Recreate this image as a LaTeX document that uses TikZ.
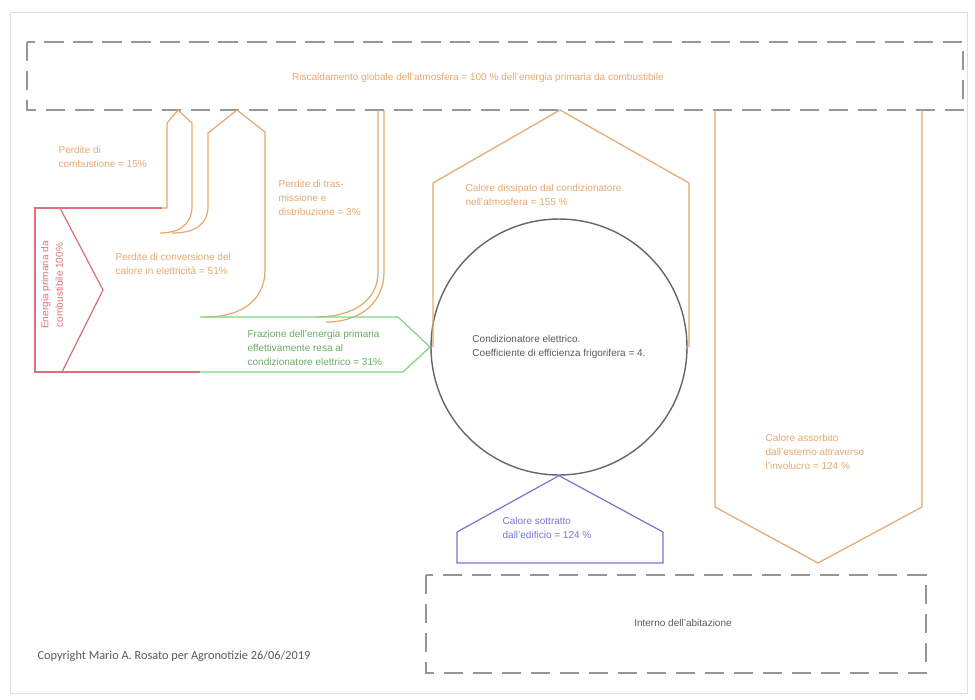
\documentclass[tikz,border=0pt]{standalone}
\usepackage{fontspec}
\setmainfont{Liberation Sans}
\newfontfamily\copyfont{Carlito}
\usetikzlibrary{
  calc, % For coordinate calculations
  positioning % For relative placement
}

\definecolor{arancio}{RGB}{228,168,112}
\definecolor{rosso}{RGB}{222,112,124}
\definecolor{verde}{RGB}{128,214,128}
\definecolor{blu}{RGB}{118,118,214}
\definecolor{grigio}{RGB}{150,150,150}

\begin{document}
\begin{tikzpicture}[
      x=0.02cm, y=-0.02cm, % Pixel-Koordinaten, y nach unten
      line width=0.7pt,
      perdita/.style={arancio}, % Flussi di perdita
      ingresso/.style={rosso}, % Energia primaria
      utile/.style={verde}, % Energia resa al condizionatore
      sottratto/.style={blu}, % Calore sottratto
      confine/.style={grigio, line width=1.2pt, dash pattern=on 11pt off 5.5pt},
      testo/.style={inner sep=0pt, align=left, font=\fontsize{5.7}{8.2}\selectfont},
    ]

    % Rahmen und Größe
    \useasboundingbox (0,0) rectangle (975,700);
    \draw[gray!25, line width=0.5pt] (10,12) rectangle (967,693);

    % Atmosfera e interno
    \draw[confine] (27,42) rectangle (963,110);
    \draw[confine] (426,575) rectangle (926,673);

    % Energia primaria (ingresso)
    \draw[ingresso] (200,372) -- (35,372) -- (35,208) -- (162,208);
    \draw[ingresso] (60,208) -- (103,290) -- (62,372);

    % Perdite di combustione
    \draw[perdita] (162,208) -- (167,208) -- (167,123) -- (178,110) -- (192,123)
      -- (192,206) .. controls (192,224) and (180,233) .. (160,233);

    % Perdite di conversione
    \draw[perdita] (172,233) .. controls (196,233) and (208,224) .. (208,206)
      -- (208,133) -- (237,110) -- (265,132) -- (265,270)
      .. controls (265,300) and (242,317) .. (205,317);

    % Perdite di trasmissione
    \foreach \xo/\yb/\xe in {378/317/316, 384/322/326}
    \draw[perdita] (\xo,110) -- (\xo,272) .. controls (\xo,302) and (\xe+35,\yb) .. (\xe,\yb);

    % Energia resa al condizionatore
    \draw[utile] (200,317) -- (398,317) -- (430,347) -- (403,372) -- (200,372);

    % Condizionatore
    \node[circle, draw=gray!80!black, line width=0.8pt, minimum size=5.12cm,
      testo, text=gray!70!black] (cond) at (559,347)
      {Condizionatore elettrico.\\Coefficiente di efficienza frigorifera = 4.};

    % Calore dissipato nell'atmosfera
    \draw[perdita] (433,347) -- (433,183) -- (560,110) -- (689,183) -- (689,347);

    % Calore sottratto all'edificio
    \draw[sottratto] (457,563) -- (457,532) -- (cond.south) -- (663,532) -- (663,563) -- cycle;

    % Calore assorbito attraverso l'involucro
    \draw[perdita] (715,110) -- (715,507) -- (818,563) -- (922,507) -- (922,110);

    % Testi
    \node[testo, text=arancio] (titolo) at (478,78)
      {Riscaldamento globale dell'atmosfera = 100 \% dell'energia primaria da combustibile};
    \node[testo, text=rosso, rotate=90, align=center] (primaria) at (52,285)
      {Energia primaria da\\combustibile 100\%};
    \node[testo, text=arancio, anchor=west] (combustione) at (58,157)
      {Perdite di\\combustione = 15\%};
    \node[testo, text=arancio, anchor=west] (conversione) at (115,264)
      {Perdite di conversione del\\calore in elettricità = 51\%};
    \node[testo, text=arancio, anchor=west] (trasmissione) at (278,198)
      {Perdite di tras-\\missione e\\distribuzione = 3\%};
    \node[testo, text=verde!80!black, anchor=west] (frazione) at (247,348)
      {Frazione dell'energia primaria\\effettivamente resa al\\condizionatore elettrico = 31\%};
    \node[testo, text=arancio, anchor=west] (dissipato) at (465,195)
      {Calore dissipato dal condizionatore\\nell'atmosfera = 155 \%};
    \node[testo, text=blu, anchor=west] (edificio) at (502,528)
      {Calore sottratto\\dall'edificio = 124 \%};
    \node[testo, text=arancio, anchor=west] (involucro) at (765,452)
      {Calore assorbito\\dall'esterno attraverso\\l'involucro = 124 \%};
    \node[testo, text=gray!70!black] (interno) at (683,623) {Interno dell'abitazione};
    \node[inner sep=0pt, anchor=west, text=gray!70!black, font=\copyfont\fontsize{7}{8}\selectfont]
      (copyright) at (37,656) {Copyright Mario A. Rosato per Agronotizie 26/06/2019};
  \end{tikzpicture}
\end{document}
